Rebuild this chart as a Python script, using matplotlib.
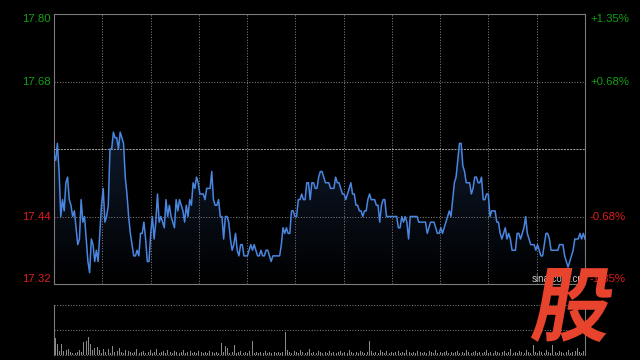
import numpy as np
import matplotlib
matplotlib.use('Agg')
import matplotlib.pyplot as plt
from matplotlib.textpath import TextPath
from matplotlib.patches import PathPatch
from matplotlib.font_manager import FontProperties
from matplotlib.transforms import Affine2D, IdentityTransform, blended_transform_factory
from matplotlib.colors import LinearSegmentedColormap

plt.rcParams['font.family'] = ['Liberation Sans', 'DejaVu Sans']

# ---------------- data ----------------
prices = [
    # segment 1
    17.55, 17.54, 17.57, 17.52, 17.44, 17.47, 17.45, 17.50, 17.51, 17.47,
    17.46, 17.44, 17.45, 17.42, 17.39, 17.40, 17.47, 17.43, 17.44,
    17.40, 17.36, 17.34, 17.40, 17.39, 17.36, 17.38, 17.36, 17.41, 17.46,
    17.49, 17.43, 17.44, 17.46, 17.56, 17.56, 17.59, 17.58, 17.58, 17.56,
    17.59, 17.58, 17.57, 17.51, 17.48, 17.44, 17.41, 17.39, 17.37,
    17.37, 17.38, 17.37, 17.41, 17.41, 17.43, 17.40, 17.36, 17.36, 17.41,
    17.44, 17.40, 17.43, 17.48, 17.43, 17.44, 17.43, 17.42, 17.47,
    17.44, 17.46, 17.44, 17.43, 17.42, 17.47, 17.45, 17.47, 17.46,
    17.45, 17.43, 17.46, 17.44,
    # segment 2
    17.47, 17.46, 17.50, 17.49, 17.51, 17.50, 17.48, 17.48, 17.48, 17.47,
    17.49, 17.49, 17.49, 17.52, 17.47, 17.46, 17.46, 17.47, 17.44, 17.44,
    17.40, 17.44, 17.44, 17.43, 17.40, 17.38, 17.39, 17.41, 17.38, 17.37,
    17.39, 17.39, 17.37, 17.37, 17.37, 17.38, 17.39, 17.38, 17.39, 17.38,
    17.37, 17.37, 17.38, 17.37, 17.37, 17.38, 17.38, 17.37, 17.36, 17.37,
    17.37, 17.37, 17.37, 17.37, 17.39, 17.42, 17.41, 17.42,
    17.41, 17.41, 17.45, 17.45, 17.44, 17.44, 17.47, 17.47, 17.48, 17.47,
    17.47, 17.50, 17.50, 17.47, 17.50, 17.50, 17.49, 17.49, 17.51, 17.52,
    17.52,
    # segment 3
    17.51, 17.50, 17.50, 17.50, 17.49, 17.49, 17.49, 17.51, 17.50, 17.50,
    17.49, 17.48, 17.48, 17.47, 17.48, 17.49, 17.50, 17.48, 17.48, 17.46,
    17.46, 17.45, 17.45, 17.44, 17.45, 17.45, 17.47, 17.48, 17.47, 17.47,
    17.47, 17.46, 17.46, 17.43, 17.46, 17.47, 17.47, 17.44, 17.44, 17.44,
    17.44, 17.44, 17.44, 17.44, 17.42, 17.42, 17.44, 17.43, 17.44, 17.43,
    17.40, 17.44, 17.44, 17.44, 17.44, 17.44, 17.43, 17.43, 17.43, 17.43,
    17.43, 17.41, 17.42, 17.43, 17.43, 17.43, 17.42, 17.41, 17.41, 17.42,
    17.41, 17.42, 17.43, 17.44, 17.45, 17.44, 17.47, 17.50, 17.51,
    # segment 4
    17.54, 17.57, 17.57, 17.53, 17.52, 17.50, 17.50, 17.50, 17.48, 17.49,
    17.51, 17.51, 17.50, 17.50, 17.51, 17.47, 17.47, 17.48, 17.48, 17.44,
    17.45, 17.45, 17.45, 17.43, 17.43, 17.41, 17.40, 17.41, 17.42, 17.40,
    17.41, 17.40, 17.38, 17.38, 17.38, 17.41, 17.41, 17.40, 17.41, 17.42,
    17.44, 17.41, 17.40, 17.39, 17.39, 17.39, 17.38, 17.39, 17.38, 17.37,
    17.37, 17.39, 17.41, 17.41, 17.40, 17.38, 17.38, 17.38, 17.38, 17.38,
    17.39, 17.39, 17.39, 17.37, 17.36, 17.35, 17.36, 17.37, 17.38, 17.40,
    17.40, 17.40, 17.41, 17.40, 17.41, 17.40,
]

volumes = [
    17, 11, 4, 11, 4, 5, 6, 3, 2, 2, 3, 5, 3, 13, 14, 18, 11, 5, 7, 8,
    5, 2, 6, 3, 6, 2, 9, 3, 4, 7, 3, 2, 5, 4, 3, 2, 3, 6, 2, 3,
    4, 2, 3, 5, 2, 3, 6, 2, 3, 4, 2, 5, 3, 2, 4, 3, 2, 3, 5, 2,
    3, 4, 2, 3, 2, 4, 3, 2, 3, 2, 4, 3, 2, 3, 2, 12, 3, 9, 7, 2,
    3, 10, 2, 3, 4, 2, 3, 2, 4, 14, 2, 3, 2, 3, 2, 4, 2, 3, 2, 3,
    2, 3, 2, 3, 23, 5, 3, 2, 4, 3, 2, 5, 3, 2, 3, 6, 2, 3, 2, 4,
    3, 2, 3, 2, 4, 2, 3, 2, 3, 4, 2, 3, 2, 5, 3, 2, 3, 2, 4, 3,
    2, 3, 14, 4, 2, 3, 2, 5, 3, 2, 4, 2, 3, 2, 3, 4, 2, 3, 2, 5,
    3, 2, 3, 2, 4, 3, 2, 3, 2, 4, 3, 2, 5, 2, 3, 2, 3, 4, 2, 3,
    2, 3, 4, 2, 3, 2, 5, 3, 2, 3, 4, 2, 3, 2, 3, 5, 2, 3, 2, 4,
    3, 2, 3, 4, 2, 3, 6, 2, 3, 2, 4, 3, 2, 5, 3, 2, 10, 3, 2, 4,
    3, 2, 5, 3, 2, 10, 3, 2, 4, 3, 2, 3, 5, 2, 3, 4, 7, 3, 2, 4,
]

prev_close = 17.56
y_min, y_max = 17.32, 17.80
left_values = [17.80, 17.68, 17.44, 17.32]
left_labels = ['17.80', '17.68', '17.44', '17.32']
right_labels = ['+1.35%', '+0.68%', '-0.68%', '-1.35%']
grid_values = [17.68, 17.44]

# ---------------- figure ----------------
W, H = 640, 360
fig = plt.figure(figsize=(W / 100, H / 100), dpi=100, facecolor='black')

ax = fig.add_axes([54 / W, 1 - 284 / H, 531 / W, 270 / H])
ax.set_facecolor('black')
n = len(prices)
x = np.arange(n)
ax.set_xlim(0, n - 1)
ax.set_ylim(y_min, y_max)

# gradient area fill under the line
grad = np.linspace(1, 0, 256).reshape(-1, 1)
cmap = LinearSegmentedColormap.from_list('g', ['#000000', '#0f1a2c'])
im = ax.imshow(grad, extent=[0, n - 1, y_min, max(prices)], aspect='auto',
               cmap=cmap, origin='upper', zorder=1, interpolation='bilinear')
poly = ax.fill_between(x, prices, y_min, facecolor='none', edgecolor='none')
im.set_clip_path(poly.get_paths()[0], ax.transData)

grid_color = '#7c7c7c'
dot = (0, (1, 1.6))
for xv in np.linspace(0, n - 1, 12)[1:-1]:
    ax.axvline(xv, color=grid_color, lw=0.75, ls=dot, zorder=2)
for yv in grid_values:
    ax.axhline(yv, color=grid_color, lw=0.75, ls=dot, zorder=2)
ax.axhline(prev_close, color='#9a9a9a', lw=0.75, ls=(0, (2, 1)), zorder=2)

ax.plot(x, prices, color='#4a86e0', lw=1.1, zorder=3)

for s in ax.spines.values():
    s.set_color('#7c7c7c')
    s.set_linewidth(0.8)
ax.set_xticks([])
ax.set_yticks([])

green, red = '#12a012', '#dc1c1c'
tr = blended_transform_factory(ax.transAxes, ax.transData)
vas = ['top', 'center', 'center', 'bottom']
for v, ll, rl, va in zip(left_values, left_labels, right_labels, vas):
    c = green if v > prev_close else red
    ax.text(-0.006, v, ll, transform=tr, ha='right', va=va, color=c, fontsize=8.2)
    ax.text(1.0094, v, rl, transform=tr, ha='left', va=va, color=c, fontsize=8.2)

# ---------------- volume panel ----------------
vax = fig.add_axes([54 / W, 1 - 355 / H, 531 / W, 50 / H])
vax.set_facecolor('black')
m = len(volumes)
vax.set_xlim(-0.5, m - 0.5)
vax.set_ylim(0, 50)
vax.bar(np.arange(m), volumes, width=0.45, color='#8a8a8a', zorder=3)
for yv in [50, 25, 0]:
    vax.axhline(yv, color=grid_color, lw=0.75, ls=dot, clip_on=False, zorder=2)
for k in ['top', 'bottom']:
    vax.spines[k].set_visible(False)
for k in ['left', 'right']:
    vax.spines[k].set_color('#7c7c7c')
    vax.spines[k].set_linewidth(0.8)
vax.set_xticks([])
vax.set_yticks([])

# ---------------- watermark + logo ----------------
fig.text(532 / W, 1 - 279 / H, 'sina.com.cn', color='#c8c8c8', fontsize=7,
         va='center', ha='left', zorder=9)

fp = FontProperties(family='Noto Sans CJK SC', weight='bold')
tp = TextPath((0, 0), '股', size=100, prop=fp)
ext = tp.get_extents()
gh = 74
gw = 88 - gh * np.tan(np.radians(10))
t = (Affine2D().translate(-ext.x0, -ext.y0)
     .scale(gw / ext.width, gh / ext.height)
     .skew_deg(10, 0)
     .translate(530, 18))
logo = PathPatch(t.transform_path(tp), facecolor='#e8432d', edgecolor='none',
                 transform=IdentityTransform(), zorder=10)
fig.add_artist(logo)

fig.savefig('out.png', dpi=100, facecolor='black')
